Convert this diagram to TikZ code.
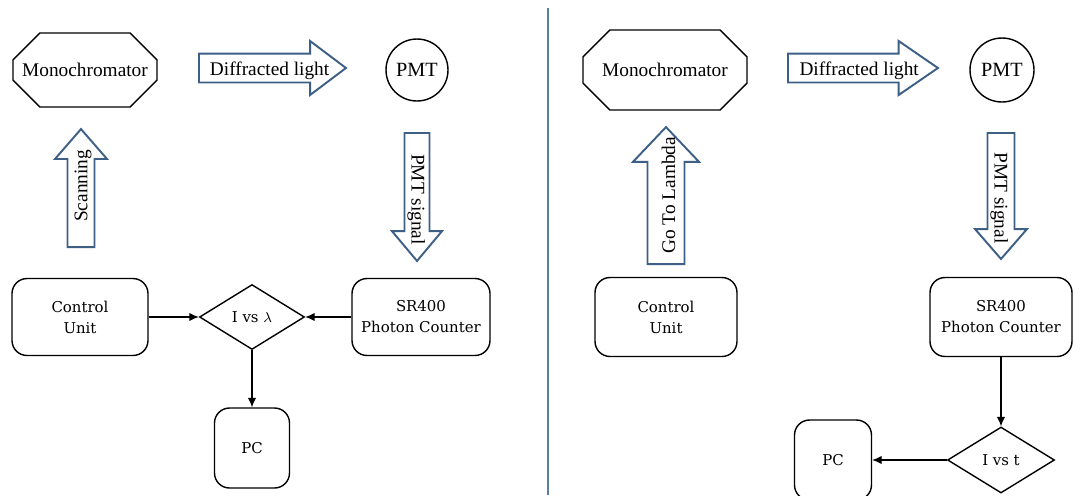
\documentclass[tikz,border=0pt]{standalone}
\usepackage{fontspec}
\setmainfont{Liberation Serif}
\newfontfamily\boxfont{DejaVu Serif}
\usepackage{tikz}
\usetikzlibrary{arrows,arrows.meta,shapes.geometric,shapes.misc,shapes.arrows,calc,positioning}
\definecolor{arrowblue}{HTML}{3E5F86}
\definecolor{rulerblue}{HTML}{5D7D9F}
\tikzstyle{mono} = [chamfered rectangle, chamfered rectangle xsep=0.4cm, chamfered rectangle ysep=0.4cm, draw=black, line width=0.8pt, inner sep=0pt, font=\fontsize{11}{13}\selectfont]
\tikzstyle{tube} = [circle, draw=black, line width=0.8pt, inner sep=0pt, font=\fontsize{11.5}{13}\selectfont]
\tikzstyle{fatarrow} = [single arrow, draw=arrowblue, line width=1.1pt, fill=white, inner xsep=0pt, inner ysep=0pt, text depth=0.12cm, anchor=tail, font=\fontsize{11}{13}\selectfont]
\tikzstyle{unit} = [rectangle, rounded corners=0.3cm, draw=black, line width=0.8pt, align=center, font=\boxfont\fontsize{8.5}{12}\selectfont]
\tikzstyle{plot} = [diamond, draw=black, line width=0.8pt, inner sep=0pt, font=\boxfont\fontsize{8.5}{12}\selectfont]
\tikzstyle{link} = [black, draw, line width=0.7pt, -{Latex[length=1.9mm,width=1.7mm]}]

\begin{document}
\begin{tikzpicture}[x=0.02cm, y=-0.02cm]
            \clip (0,0) rectangle (1089,495);

            % Scanning
            \node[mono, minimum width=2.88cm, minimum height=1.48cm] at (85,70) (MonoA) {Monochromator};
            \node[fatarrow, text height=0.42cm, minimum width=1.06cm, minimum height=2.94cm, single arrow tip angle=74] at (198,68) (DiffA) {\hspace*{0.07cm}Diffracted light\hspace*{-0.2cm}};
            \node[tube, minimum size=1.24cm] at (417,70) (PmtA) {PMT};
            \node[fatarrow, rotate=90, text height=0.38cm, minimum width=1.04cm, minimum height=2.36cm, single arrow tip angle=82] at (81,248) (ScanA) {\hspace*{0.1cm}Scanning\hspace*{-0.3cm}};
            \node[fatarrow, rotate=-90, text height=0.34cm, minimum width=1.0cm, minimum height=2.56cm, single arrow tip angle=80] at (417,132) (SigA) {\hspace*{0.1cm}PMT signal\hspace*{-0.3cm}};

            \node[unit, minimum width=2.72cm, minimum height=1.54cm] at (80,317) (CtrlA) {Control\\Unit};
            \node[plot, minimum width=2.1cm, minimum height=1.3cm] at (252,317) (IvsL) {I vs $\lambda$};
            \node[unit, minimum width=2.76cm, minimum height=1.54cm] at (421,317) (CountA) {SR400\\Photon Counter};
            \node[unit, minimum width=1.5cm, minimum height=1.6cm] at (252,448) (PcA) {PC};

            \path[link] (CtrlA) -- (IvsL);
            \path[link] (CountA) -- (IvsL);
            \path[link] (IvsL) -- (PcA);

            % divider
            \coordinate (DivTop) at (548,8);
            \coordinate (DivBot) at (548,495);
            \draw[rulerblue, line width=1pt] (DivTop) -- (DivBot);

            % Go To Lambda
            \node[mono, minimum width=3.28cm, minimum height=1.6cm] at (665,70) (MonoB) {Monochromator};
            \node[fatarrow, text height=0.42cm, minimum width=1.02cm, minimum height=3.0cm, single arrow tip angle=69] at (787,68) (DiffB) {\hspace*{0.07cm}Diffracted light\hspace*{-0.2cm}};
            \node[tube, minimum size=1.28cm] at (1002,70) (PmtB) {PMT};
            \node[fatarrow, rotate=90, text height=0.48cm, minimum width=1.32cm, minimum height=2.74cm, single arrow tip angle=87] at (666,265) (GoB) {\hspace*{0.1cm}Go To Lambda\hspace*{-0.3cm}};
            \node[fatarrow, rotate=-90, text height=0.38cm, minimum width=1.04cm, minimum height=2.52cm, single arrow tip angle=82] at (1001,132) (SigB) {\hspace*{0.1cm}PMT signal\hspace*{-0.3cm}};

            \node[unit, minimum width=2.84cm, minimum height=1.58cm] at (666,317) (CtrlB) {Control\\Unit};
            \node[unit, minimum width=2.84cm, minimum height=1.58cm] at (1001,317) (CountB) {SR400\\Photon Counter};
            \node[plot, minimum width=2.14cm, minimum height=1.32cm] at (1001,460) (IvsT) {I vs t};
            \node[unit, minimum width=1.54cm, minimum height=1.6cm] at (833,460) (PcB) {PC};

            \path[link] (CountB) -- (IvsT);
            \path[link] (IvsT) -- (PcB);
\end{tikzpicture}
\end{document}
